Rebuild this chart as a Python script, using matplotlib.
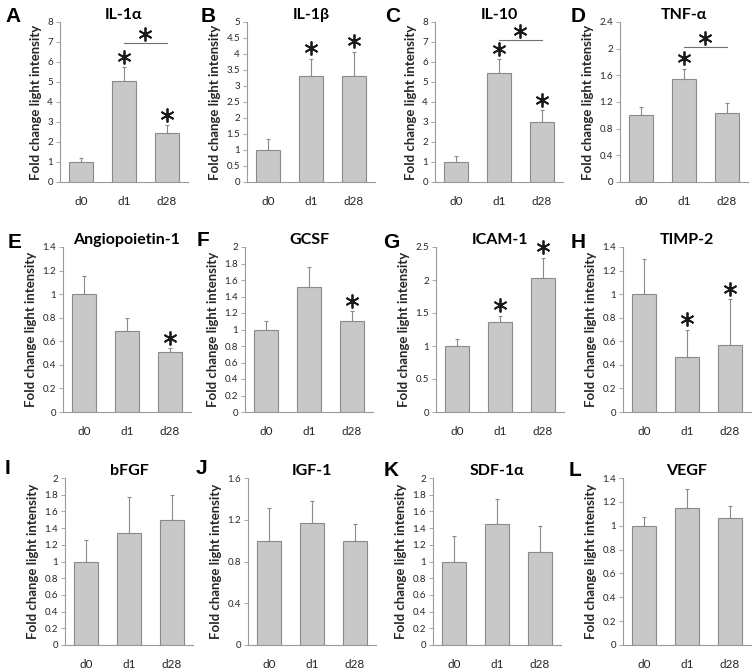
import numpy as np
import matplotlib
matplotlib.use("Agg")
import matplotlib.pyplot as plt
from matplotlib.ticker import FuncFormatter

plt.rcParams['font.family'] = ['Lato', 'DejaVu Sans']

# data
letters = ['A', 'B', 'C', 'D', 'E', 'F', 'G', 'H', 'I', 'J', 'K', 'L']
titles = ['IL-1α', 'IL-1β', 'IL-10', 'TNF-α',
          'Angiopoietin-1', 'GCSF', 'ICAM-1', 'TIMP-2',
          'bFGF', 'IGF-1', 'SDF-1α', 'VEGF']
days = ['d0', 'd1', 'd28']

means = [[1.0, 5.05, 2.45], [1.0, 3.3, 3.32], [1.0, 5.45, 2.98], [1.0, 1.55, 1.04],
         [1.0, 0.69, 0.505], [1.0, 1.52, 1.10], [1.0, 1.37, 2.03], [1.0, 0.465, 0.565],
         [1.0, 1.34, 1.50], [1.0, 1.17, 1.0], [1.0, 1.45, 1.11], [1.0, 1.15, 1.065]]
errs = [[0.2, 0.7, 0.4], [0.35, 0.55, 0.75], [0.3, 0.7, 0.6], [0.13, 0.15, 0.14],
        [0.15, 0.11, 0.035], [0.10, 0.24, 0.12], [0.11, 0.09, 0.30], [0.30, 0.23, 0.39],
        [0.26, 0.43, 0.30], [0.31, 0.21, 0.16], [0.30, 0.30, 0.31], [0.075, 0.155, 0.10]]
ymax = [8, 5, 8, 2.4, 1.4, 2, 2.5, 1.4, 2, 1.6, 2, 1.4]
ystep = [1, 0.5, 1, 0.4, 0.2, 0.2, 0.5, 0.2, 0.2, 0.4, 0.2, 0.2]
stars = [[0, 1, 1], [0, 1, 1], [0, 1, 1], [0, 1, 0],
         [0, 0, 1], [0, 0, 1], [0, 1, 1], [0, 1, 1],
         [0, 0, 0], [0, 0, 0], [0, 0, 0], [0, 0, 0]]
# d1 vs d28 comparison
bracket = [1, 0, 1, 1, 0, 0, 0, 0, 0, 0, 0, 0]

# layout in pixels (left of y axis, top, bottom)
lefts = [60, 247, 435, 620, 63, 245, 436, 623, 65, 248, 433, 623]
rows = [(22, 182), (247, 412), (478, 645)]
letter_xy = [(13, 17), (208, 17), (393, 17), (578, 17),
             (15, 242), (203, 241), (391, 242), (578, 242),
             (8, 468), (201, 469), (391, 470), (575, 470)]
bracket_frac = [0.87, 0, 0.89, 0.845]

W, H = 753, 672
fig = plt.figure(figsize=(W / 100, H / 100), dpi=100)

bar_col = '#c8c8c8'
edge_col = '#8a8a8a'
axis_col = '#9a9a9a'
txt_col = '#262626'
fmt = FuncFormatter(lambda v, p: f'{round(v, 2):g}')
star = dict(marker=(6, 2, 0), ms=10, mew=1.3, color='#1a1a1a', clip_on=False, zorder=3)

x = np.arange(len(days))
for i in range(12):
    top, bot = rows[i // 4]
    ax = fig.add_axes([lefts[i] / W, 1 - bot / H, 128 / W, (bot - top) / H])
    ax.bar(x, means[i], 0.56, color=bar_col, edgecolor=edge_col, linewidth=0.8, zorder=2)
    ax.errorbar(x, means[i], yerr=[np.zeros(3), errs[i]], fmt='none',
                ecolor=edge_col, elinewidth=0.8, capsize=1.5, capthick=0.8, zorder=1)
    ax.set_xlim(-0.5, 2.5)
    ax.set_ylim(0, ymax[i])
    ax.set_yticks(np.arange(0, ymax[i] + ystep[i] / 2, ystep[i]))
    ax.yaxis.set_major_formatter(fmt)
    ax.set_xticks(x)
    ax.set_xticklabels(days, fontsize=8.5, color=txt_col)
    ax.tick_params(axis='y', length=3, width=0.6, color=axis_col, labelsize=7,
                   labelcolor=txt_col, pad=2)
    ax.tick_params(axis='x', length=0, pad=10)
    for s in ['top', 'right']:
        ax.spines[s].set_visible(False)
    for s in ['left', 'bottom']:
        ax.spines[s].set_color(axis_col)
        ax.spines[s].set_linewidth(0.8)
    ax.set_ylabel('Fold change light intensity', fontsize=9.5, fontweight='bold',
                  color=txt_col, labelpad=4)
    ax.set_title(titles[i], fontsize=11.5, fontweight='bold', color='black', pad=2)

    off = 0.065 * ymax[i]
    for j in range(3):
        if stars[i][j]:
            ax.plot(x[j], means[i][j] + errs[i][j] + off, **star)
    if bracket[i]:
        by = bracket_frac[i] * ymax[i]
        ax.plot([x[1], x[2]], [by, by], color='#707070', lw=0.8, clip_on=False)
        ax.plot((x[1] + x[2]) / 2, by + 0.055 * ymax[i], **star)

    lx, ly = letter_xy[i]
    fig.text(lx / W, 1 - ly / H, letters[i], fontsize=15, fontweight='bold',
             family='Liberation Sans', ha='center', va='center')

fig.savefig('out.png', dpi=100)
